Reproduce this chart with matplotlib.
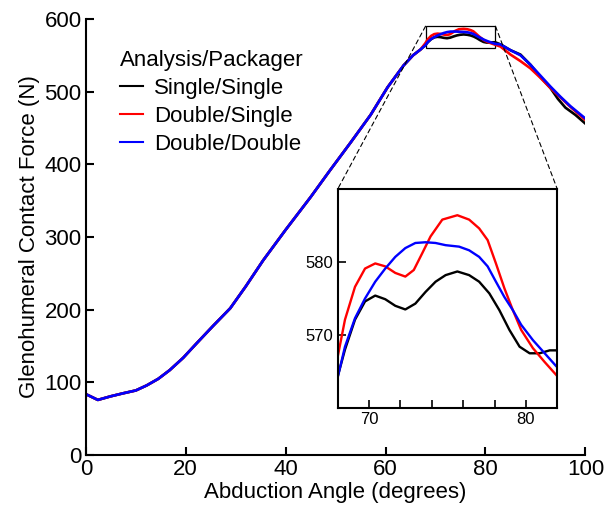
import matplotlib
matplotlib.use("Agg")
import matplotlib.pyplot as plt
from matplotlib.patches import Rectangle, ConnectionPatch

plt.rcParams['font.family'] = ['Liberation Sans', 'DejaVu Sans']

# shared rising part (the three runs lie on top of each other here)
base_x = [0, 2.4, 5, 7.4, 10, 12.2, 14.5, 16.8, 19.5, 22.2, 25.5, 28.9, 32, 35.5,
          40, 45, 48.9, 53, 57, 60.4, 63.6, 65.5, 67]
base_y = [84, 76, 81, 85, 89, 96, 105, 117, 134, 154, 178, 202, 232, 268,
          310, 355, 392, 430, 468, 506, 536, 550, 558]

# peak region
single_peak_x = [67.93, 68.46, 69.10, 69.74, 70.39, 71.03, 71.67, 72.31, 72.95, 73.60,
                 74.24, 74.88, 75.63, 76.38, 77.02, 77.67, 78.31, 78.95, 79.60, 80.24,
                 80.88, 81.52, 81.95]
single_peak_y = [563.8, 568.0, 572.1, 574.6, 575.4, 574.9, 574.0, 573.5, 574.3, 575.9,
                 577.3, 578.2, 578.7, 578.2, 577.3, 575.7, 573.4, 570.7, 568.4, 567.5,
                 567.5, 567.9, 567.9]

dsingle_peak_x = [67.93, 68.46, 69.10, 69.74, 70.39, 71.03, 71.67, 72.31, 72.85, 73.39,
                  73.92, 74.67, 75.63, 76.38, 77.02, 77.56, 78.09, 78.63, 79.17, 79.70,
                  80.45, 81.20, 81.95]
dsingle_peak_y = [566.3, 572.1, 576.6, 579.1, 579.8, 579.4, 578.5, 578.0, 578.9, 581.2,
                  583.5, 585.8, 586.4, 585.8, 584.6, 583.0, 579.8, 576.4, 573.4, 570.7,
                  568.2, 566.3, 564.5]

ddouble_peak_x = [67.93, 68.46, 69.10, 69.74, 70.39, 71.03, 71.67, 72.31, 72.95, 73.60,
                  74.24, 74.88, 75.74, 76.38, 77.02, 77.56, 78.09, 78.63, 79.17, 79.70,
                  80.45, 81.20, 81.95]
ddouble_peak_y = [563.6, 568.4, 572.3, 575.0, 577.3, 579.1, 580.7, 581.9, 582.6, 582.7,
                  582.6, 582.3, 582.1, 581.6, 580.7, 579.4, 577.3, 575.2, 573.4, 571.4,
                  569.3, 567.5, 565.7]

# falling part
single_tail_x = [83, 85, 87, 89, 91, 93, 94.5, 96, 98, 100]
single_tail_y = [565, 557, 551, 537, 520, 505, 490, 478, 468, 456]
dsingle_tail_x = [83, 85, 87, 89, 91, 93, 95, 97, 100]
dsingle_tail_y = [562, 551, 542, 532, 519, 505, 492, 479, 461]
ddouble_tail_x = [83, 85, 87, 89, 91, 93, 95, 97, 100]
ddouble_tail_y = [565, 557, 550, 537, 522, 507, 493, 480, 463]

series = [
    ("Single/Single", "black", single_peak_x, single_peak_y, single_tail_x, single_tail_y),
    ("Double/Single", "#ff0000", dsingle_peak_x, dsingle_peak_y, dsingle_tail_x, dsingle_tail_y),
    ("Double/Double", "#0000ff", ddouble_peak_x, ddouble_peak_y, ddouble_tail_x, ddouble_tail_y),
]

fig = plt.figure(figsize=(6.13, 5.12), dpi=100)
ax = fig.add_axes([0.140, 0.111, 0.815, 0.852])

for name, col, px, py, tx, ty in series:
    ax.plot(base_x + px + tx, base_y + py + ty, color=col, lw=1.9, label=name)

ax.set_xlim(0, 100)
ax.set_ylim(0, 600)
ax.set_xticks([0, 20, 40, 60, 80, 100])
ax.set_yticks([0, 100, 200, 300, 400, 500, 600])
ax.spines['top'].set_visible(False)
ax.spines['right'].set_visible(False)
for s in ['left', 'bottom']:
    ax.spines[s].set_linewidth(1.5)
ax.tick_params(direction='in', length=6, width=1.5, labelsize=16, pad=3)
ax.set_xlabel("Abduction Angle (degrees)", fontsize=16, labelpad=1)
ax.set_ylabel("Glenohumeral Contact Force (N)", fontsize=16, labelpad=3)

leg = ax.legend(title="Analysis/Packager", frameon=False, loc='upper left',
                bbox_to_anchor=(0.028, 0.975), fontsize=16, title_fontsize=16,
                handlelength=1.05, handletextpad=0.5, labelspacing=0.32,
                alignment='left')
for h in leg.get_lines():
    h.set_linewidth(1.5)

# zoom box
ax.add_patch(Rectangle((68, 560), 14, 30, fill=False, ec='black', lw=0.9))

ins = fig.add_axes([0.551, 0.203, 0.358, 0.428])
for name, col, px, py, tx, ty in series:
    ins.plot(base_x + px + tx, base_y + py + ty, color=col, lw=1.7)
ins.set_xlim(68, 82)
ins.set_ylim(560, 590)
ins.set_xticks([70, 80])
ins.set_xticks([72, 74, 76, 78], minor=True)
ins.set_yticks([570, 580])
for s in ins.spines.values():
    s.set_linewidth(1.5)
ins.tick_params(which='both', direction='in', length=6, width=1.2, labelsize=12, pad=3)

for xa, xb in [(68, 0), (82, 1)]:
    con = ConnectionPatch(xyA=(xa, 590), coordsA=ax.transData,
                          xyB=(xb, 1), coordsB=ins.transAxes,
                          ls=(0, (4, 3)), lw=0.8, color='black')
    fig.add_artist(con)

fig.savefig("out.png", dpi=100)
